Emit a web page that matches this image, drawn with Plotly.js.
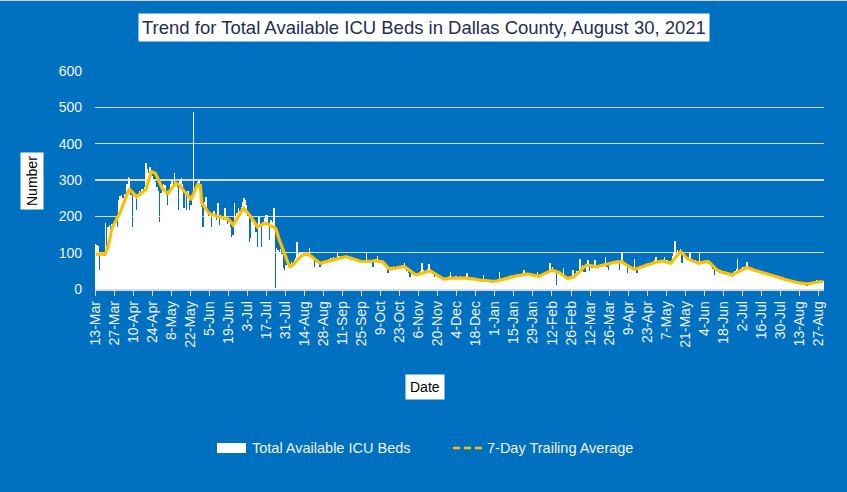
<!DOCTYPE html>
<html><head><meta charset="utf-8">
<script src="https://cdn.plot.ly/plotly-3.0.1.min.js"></script>
<style>html,body{margin:0;padding:0;background:#0070C0;overflow:hidden;} #chart{width:847px;height:492px;}</style>
</head><body><div id="chart"></div>
<script>
const chartTitle = 'Trend for Total Available ICU Beds in Dallas County, August 30, 2021';
const seriesNames = ['Total Available ICU Beds', '7-Day Trailing Average'];
const xTitle = 'Date';
const yTitle = 'Number';
const startDate = '2020-03-13';
const yTicks = [0, 100, 200, 300, 400, 500, 600];

// daily values, 14 per line (13-Mar-2020 .. 30-Aug-2021)
const bedsDaily = [
124,120,118,52,95,100,92,182,110,170,175,160,178,172,
180,195,170,245,255,260,250,262,258,290,309,305,260,171,
265,258,217,262,270,255,275,268,280,348,330,320,335,325,
310,300,295,280,270,185,265,278,290,285,260,231,270,290,
300,285,319,290,280,217,300,305,290,223,260,217,270,217,
230,260,488,270,280,295,300,285,226,171,240,254,215,200,
210,171,200,215,205,190,238,176,205,200,190,222,195,180,
185,170,144,150,236,200,210,222,215,225,240,250,245,230,
200,130,140,190,185,175,158,116,199,175,116,185,195,204,
204,180,135,190,185,222,3,112,107,100,110,95,57,52,
65,70,72,68,75,70,80,85,130,95,98,100,103,100,
98,100,95,112,90,85,80,61,75,80,70,61,66,71,
78,72,80,82,75,85,80,88,82,86,103,90,85,88,
90,92,88,85,90,82,86,80,84,78,82,75,80,72,
76,74,78,98,75,80,72,78,61,80,82,91,75,78,
74,72,65,60,58,43,55,60,58,62,55,60,62,58,
62,58,65,72,55,50,45,34,42,40,38,42,45,44,
48,50,72,52,50,46,55,70,48,45,40,32,38,36,
33,30,28,26,29,30,32,28,35,48,30,34,32,35,
34,30,35,32,28,30,33,44,28,30,27,30,26,29,
27,24,26,25,28,39,24,22,26,20,24,19,22,21,
22,20,26,46,28,25,30,27,32,31,36,38,34,37,
38,35,40,36,42,38,44,52,40,38,42,36,40,37,
36,34,38,48,33,40,42,45,40,48,50,46,71,52,
61,50,48,11,45,42,38,36,57,30,28,26,30,33,
35,52,38,45,50,48,82,60,65,48,48,62,80,50,
65,58,60,80,62,58,66,70,62,68,72,89,60,52,
75,70,78,72,76,74,80,52,76,103,78,70,65,43,
60,56,58,55,82,52,43,60,58,62,64,60,66,68,
68,70,72,66,75,80,89,72,76,78,80,74,89,76,
80,70,78,75,90,98,133,100,107,95,110,71,100,92,
85,80,80,103,78,75,72,80,70,76,98,72,70,75,
78,75,72,70,65,60,55,39,58,50,48,45,48,42,
44,46,40,42,38,45,34,48,50,55,82,52,55,58,
60,58,62,75,55,55,52,54,50,52,48,50,46,47,
45,44,42,40,42,38,40,36,38,35,34,33,32,31,
30,28,27,25,24,22,22,20,20,21,18,19,18,17,
16,15,16,14,15,8,14,16,18,20,18,20,25,21,
22,20,23,21
];

// 7-day trailing average as drawn
const avg7 = [
96,96,96,96,96,96,96,96,105,115,130,150,168,175,
182,188,193,199,210,220,230,242,254,262,270,274,270,266,
260,256,254,257,260,263,266,269,272,274,287,300,312,323,
322,320,318,310,300,292,280,276,273,270,266,263,268,273,
278,283,287,291,289,287,285,279,273,268,265,262,258,252,
245,253,262,270,279,288,287,285,236,230,225,220,215,210,
207,205,204,203,202,201,200,200,199,199,198,197,195,193,
190,185,180,176,182,188,195,202,209,215,219,222,218,212,
208,204,199,193,187,180,175,171,173,175,178,179,180,181,
180,178,175,173,172,171,168,160,145,135,126,115,105,95,
85,75,66,61,63,67,70,75,80,84,87,90,94,95,
95,96,96,94,92,89,85,82,79,76,73,71,72,73,
75,76,77,78,79,80,81,82,83,84,85,86,86,87,
88,88,89,88,87,86,85,84,83,82,80,78,77,75,
75,75,75,76,76,77,77,77,77,78,78,78,77,76,
75,75,71,67,63,59,54,55,56,57,58,59,59,60,
60,61,61,61,59,56,53,50,47,44,42,40,39,40,
41,42,44,45,46,47,48,49,50,48,45,43,40,38,
36,33,31,29,27,27,28,28,29,30,30,31,31,32,
32,32,32,31,31,31,30,30,29,29,28,28,27,27,
26,25,25,25,24,24,24,24,23,22,22,21,21,20,
21,22,23,24,25,26,27,28,29,30,32,34,35,35,
36,36,37,37,38,39,40,41,41,41,41,40,39,38,
38,36,35,34,35,37,39,41,43,45,47,49,50,51,
52,51,50,49,48,45,42,39,37,34,32,29,30,31,
32,33,34,38,41,45,48,52,56,60,63,66,66,65,
64,63,63,62,61,62,63,64,65,66,67,69,70,71,
72,72,73,73,74,74,74,75,75,75,72,69,66,64,
62,60,58,56,54,55,56,57,58,60,61,63,64,66,
66,68,69,71,72,73,74,75,76,77,78,77,76,75,
74,73,72,71,76,82,88,90,95,100,103,100,95,90,
87,84,82,80,78,76,75,74,73,71,72,73,74,75,
76,77,76,74,70,66,62,58,54,52,50,48,47,46,
45,44,43,42,41,40,39,41,43,45,47,49,51,53,
56,58,60,60,58,56,54,53,52,51,50,49,48,47,
46,45,43,42,41,40,39,38,37,36,35,34,33,32,
30,29,27,26,24,23,22,21,20,20,19,19,18,17,
16,16,15,15,15,14,14,15,16,17,18,19,19,20,
20,20,20,20
];

if (bedsDaily.length !== avg7.length) throw new Error('length mismatch ' + bedsDaily.length + ' vs ' + avg7.length);

function addDays(s, n) {
  const d = new Date(s + 'T00:00:00Z');
  d.setUTCDate(d.getUTCDate() + n);
  return d.toISOString().slice(0, 10);
}
const dates = bedsDaily.map((_, i) => addDays(startDate, i));
const rangeEnd = addDays(startDate, bedsDaily.length);

const W = 847, H = 492, L = 95, R = 23, T = 71, B = 203;
const pw = W - L - R, ph = H - T - B;
const px = x => (x - L) / pw;
const py = y => (H - B - y) / ph;

const FONT = 'Liberation Sans, Arial, sans-serif';
const BLUE = '#0070C0';
const ORANGE = '#FFC000';
const GRID = '#D9D9D9';

const traces = [
  {
    type: 'bar', name: seriesNames[0], x: dates, y: bedsDaily,
    xperiod: 86400000, xperiodalignment: 'middle',
    marker: { color: '#FFFFFF', line: { width: 0 } },
    showlegend: false, hoverinfo: 'x+y'
  },
  {
    type: 'scatter', mode: 'lines', name: seriesNames[1], x: dates, y: avg7,
    xperiod: 86400000, xperiodalignment: 'middle',
    line: { color: ORANGE, width: 3.2 },
    showlegend: false
  }
];

const layout = {
  width: W, height: H,
  margin: { l: L, r: R, t: T, b: B, pad: 0 },
  paper_bgcolor: BLUE, plot_bgcolor: BLUE,
  bargap: 0,
  font: { family: FONT, color: '#FFFFFF', size: 14 },
  xaxis: {
    type: 'date', range: [startDate, rangeEnd],
    tick0: startDate, dtick: 14 * 86400000, tickformat: '%-d-%b',
    tickangle: -90, tickfont: { family: FONT, size: 14, color: '#F2F2F2' },
    ticks: 'outside', ticklen: 5, tickwidth: 1, tickcolor: GRID,
    showline: true, linecolor: GRID, linewidth: 1.5,
    showgrid: false, zeroline: false, fixedrange: true
  },
  yaxis: {
    range: [0, 600], tickvals: yTicks,
    tickfont: { family: FONT, size: 14, color: '#F2F2F2' },
    showgrid: true, gridcolor: GRID, gridwidth: 1.5,
    zeroline: false, showline: false, ticks: '', ticklabelstandoff: 12,
    fixedrange: true
  },
  shapes: [
    { type: 'line', xref: 'paper', yref: 'paper', x0: px(0), x1: px(847), y0: py(0.5), y1: py(0.5),
      line: { color: '#D0D0D0', width: 1 } },
    { type: 'rect', xref: 'paper', yref: 'paper', x0: px(217), x1: px(246), y0: py(453), y1: py(443),
      fillcolor: '#FFFFFF', line: { width: 0 } },
    { type: 'line', xref: 'paper', yref: 'paper', x0: px(453), x1: px(483), y0: py(448), y1: py(448),
      line: { color: ORANGE, width: 2.5, dash: '7px,4px' } }
  ],
  annotations: [
    { text: chartTitle, xref: 'paper', yref: 'paper', x: px(423.5), y: py(28),
      xanchor: 'center', yanchor: 'middle', showarrow: false,
      font: { family: FONT, size: 18.5, color: '#1F2D55' },
      bgcolor: '#FFFFFF', borderpad: 3 },
    { text: yTitle, xref: 'paper', yref: 'paper', x: px(32), y: py(181), textangle: -90,
      xanchor: 'center', yanchor: 'middle', showarrow: false,
      font: { family: FONT, size: 14, color: '#000000' },
      bgcolor: '#FFFFFF', borderpad: 3 },
    { text: xTitle, xref: 'paper', yref: 'paper', x: px(425), y: py(387),
      xanchor: 'center', yanchor: 'middle', showarrow: false,
      font: { family: FONT, size: 14, color: '#000000' },
      bgcolor: '#FFFFFF', borderpad: 4 },
    { text: seriesNames[0], xref: 'paper', yref: 'paper', x: px(250), y: py(448),
      xanchor: 'left', yanchor: 'middle', showarrow: false,
      font: { family: FONT, size: 14.5, color: '#F2F2F2' } },
    { text: seriesNames[1], xref: 'paper', yref: 'paper', x: px(485), y: py(448),
      xanchor: 'left', yanchor: 'middle', showarrow: false,
      font: { family: FONT, size: 14.5, color: '#F2F2F2' } }
  ]
};

Plotly.newPlot('chart', traces, layout, { displayModeBar: false, staticPlot: true });
</script>
</body></html>
